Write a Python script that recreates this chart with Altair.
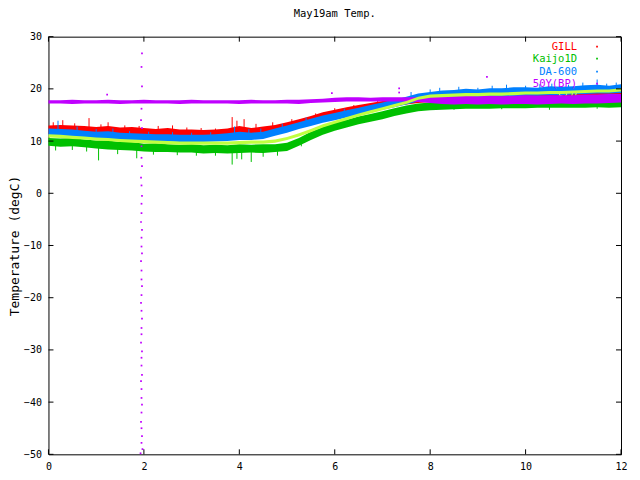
import altair as alt
import pandas as pd

# ---------------- data ----------------
hours = [0, 0.25, 0.5, 0.75, 1, 1.25, 1.5, 1.75, 2, 2.25, 2.5, 2.75, 3, 3.25, 3.5, 3.75,
         4, 4.25, 4.5, 4.75, 5, 5.25, 5.5, 5.75, 6, 6.25, 6.5, 6.75, 7, 7.25, 7.5, 7.75,
         8, 8.25, 8.5, 8.75, 9, 9.25, 9.5, 9.75, 10, 10.25, 10.5, 10.75, 11, 11.25, 11.5, 11.75, 12]

series_names = ["GILL", "Kaijo1D", "DA-600", "50Y(BP)", "SLU"]
series_colors = ["#ff0000", "#00c000", "#0080ff", "#c000ff", "#c0ff40"]

gill_lo = [11.4, 11.4, 11.5, 11.2, 11.3, 11.3, 11.1, 11.1, 10.9, 10.9, 10.8, 10.8, 10.6, 10.7, 10.5, 10.8,
           11.0, 10.9, 11.3, 11.7, 12.2, 12.8, 13.4, 14.1, 14.6, 15.2, 15.5, 16.0, 16.3, 16.7, 17.0, 17.3,
           17.5, 17.6, 17.7, 17.8, 17.9, 17.9, 18.0, 18.1, 18.2, 18.2, 18.3, 18.4, 18.4, 18.5, 18.6, 18.6, 18.7]
gill_hi = [13.0, 13.1, 13.0, 12.9, 12.7, 12.9, 12.6, 12.7, 12.5, 12.3, 12.5, 12.2, 12.2, 12.1, 12.2, 12.4,
           12.9, 12.5, 12.8, 13.1, 13.6, 14.2, 14.8, 15.5, 16.0, 16.5, 16.9, 17.3, 17.7, 18.0, 18.3, 18.6,
           18.8, 18.9, 19.0, 19.1, 19.2, 19.2, 19.3, 19.4, 19.5, 19.5, 19.6, 19.7, 19.7, 19.8, 19.9, 19.9, 20.0]

kaijo_lo = [9.1, 8.9, 9.0, 8.8, 8.6, 8.4, 8.3, 8.2, 8.0, 7.9, 7.9, 7.8, 7.8, 7.6, 7.7, 7.6,
            7.7, 7.8, 7.7, 7.9, 8.1, 9.1, 10.2, 11.2, 12.0, 12.6, 13.2, 13.7, 14.2, 14.8, 15.3, 15.7,
            15.9, 16.0, 16.1, 16.2, 16.2, 16.2, 16.3, 16.3, 16.3, 16.4, 16.4, 16.4, 16.4, 16.4, 16.5, 16.4, 16.5]
kaijo_hi = [10.6, 10.5, 10.6, 10.3, 10.1, 10.1, 9.8, 9.8, 9.5, 9.6, 9.4, 9.3, 9.4, 9.2, 9.3, 9.2,
            9.4, 9.3, 9.4, 9.4, 9.7, 10.6, 11.8, 12.7, 13.5, 14.1, 14.7, 15.2, 15.7, 16.3, 16.8, 17.2,
            17.4, 17.5, 17.6, 17.7, 17.7, 17.7, 17.8, 17.8, 17.8, 17.9, 17.9, 17.9, 17.9, 17.9, 18.0, 17.9, 18.0]

da_lo = [11.0, 10.8, 10.8, 10.6, 10.4, 10.4, 10.2, 10.1, 10.0, 9.9, 9.9, 9.8, 9.8, 9.8, 9.9, 10.0,
         10.2, 10.2, 10.4, 11.0, 11.6, 12.3, 12.9, 13.5, 14.0, 14.5, 15.0, 15.5, 16.0, 16.5, 17.0, 17.6,
         17.9, 18.1, 18.2, 18.3, 18.4, 18.5, 18.5, 18.6, 18.7, 18.7, 18.8, 18.8, 18.9, 19.0, 19.1, 19.1, 19.2]
da_hi = [12.4, 12.3, 12.2, 12.0, 11.8, 11.9, 11.6, 11.5, 11.4, 11.3, 11.3, 11.2, 11.2, 11.2, 11.3, 11.5,
         11.8, 11.6, 11.8, 12.4, 13.0, 13.6, 14.3, 14.9, 15.4, 15.9, 16.4, 16.9, 17.4, 17.9, 18.5, 19.1,
         19.4, 19.7, 19.8, 20.0, 19.9, 20.1, 20.1, 20.3, 20.3, 20.2, 20.5, 20.4, 20.5, 20.7, 20.8, 20.6, 20.9]

p50_lo = [17.2, 17.2, 17.1, 17.2, 17.2, 17.2, 17.1, 17.2, 17.2, 17.2, 17.2, 17.1, 17.2, 17.2, 17.2, 17.2,
          17.1, 17.2, 17.2, 17.2, 17.2, 17.1, 17.3, 17.4, 17.5, 17.6, 17.6, 17.6, 17.6, 17.6, 17.6, 17.5,
          17.3, 17.1, 17.0, 17.1, 17.0, 17.1, 17.0, 17.1, 17.1, 17.0, 17.1, 17.2, 17.1, 17.2, 17.2, 17.3, 17.4]
p50_hi = [17.8, 17.8, 17.9, 17.8, 17.8, 17.9, 17.8, 17.8, 17.9, 17.8, 17.8, 17.8, 17.9, 17.8, 17.8, 17.8,
          17.8, 17.9, 17.8, 17.8, 17.9, 17.9, 18.0, 18.1, 18.3, 18.4, 18.4, 18.3, 18.4, 18.4, 18.4, 18.4,
          18.5, 18.7, 18.6, 18.7, 18.6, 18.7, 18.6, 18.7, 18.8, 18.7, 18.8, 18.8, 18.8, 18.9, 18.9, 19.0, 19.0]

slu_lo = [10.7, 10.6, 10.4, 10.3, 10.1, 10.0, 9.8, 9.7, 9.6, 9.5, 9.4, 9.3, 9.3, 9.3, 9.3, 9.3,
          9.4, 9.5, 9.5, 9.7, 10.2, 10.9, 11.7, 12.6, 13.3, 14.0, 14.7, 15.3, 15.9, 16.5, 17.1, 17.9,
          18.3, 18.4, 18.5, 18.6, 18.6, 18.7, 18.7, 18.8, 18.9, 18.9, 19.0, 19.0, 19.1, 19.2, 19.3, 19.3, 19.5]
slu_hi = [11.3, 11.2, 11.0, 10.9, 10.7, 10.6, 10.4, 10.3, 10.2, 10.1, 10.0, 9.9, 9.9, 9.9, 9.9, 9.9,
          10.0, 10.1, 10.1, 10.3, 10.8, 11.5, 12.3, 13.2, 13.9, 14.6, 15.3, 15.9, 16.5, 17.1, 17.7, 18.5,
          18.9, 19.0, 19.1, 19.2, 19.2, 19.3, 19.3, 19.4, 19.5, 19.5, 19.6, 19.6, 19.7, 19.8, 19.9, 19.9, 20.1]

# noise spikes
gill_spike_x = [0.1, 0.3, 0.55, 0.85, 1.1, 1.25, 1.6, 1.9, 2.3, 2.6, 2.9, 3.2, 3.5, 3.85, 3.95, 4.1,
                4.35, 4.7, 5.1, 5.6, 6.0, 6.4, 6.9, 7.3]
gill_spike_lo = [12.2, 12.3, 12.3, 12.2, 12.0, 12.0, 11.9, 11.8, 11.6, 11.6, 11.5, 11.4, 11.3, 11.5, 11.5, 11.5,
                 11.6, 12.3, 13.0, 14.3, 15.3, 16.0, 16.9, 17.3]
gill_spike_hi = [13.6, 14.0, 13.4, 14.4, 13.2, 13.6, 13.0, 12.9, 12.9, 13.0, 12.6, 12.5, 12.4, 14.6, 13.9, 14.2,
                 13.3, 13.6, 14.2, 15.3, 16.3, 16.9, 17.7, 18.2]
kaijo_spike_x = [0.15, 0.5, 0.8, 1.05, 1.45, 1.85, 2.2, 2.7, 3.1, 3.5, 3.85, 3.95, 4.05, 4.25, 4.5, 4.8,
                 5.3, 6.2, 7.0, 8.5, 9.5, 10.5, 11.5]
kaijo_spike_lo = [8.2, 8.3, 8.0, 6.3, 7.5, 6.7, 7.4, 7.3, 7.2, 7.2, 5.5, 6.6, 6.5, 6.0, 7.0, 7.2,
                  9.0, 12.6, 14.5, 16.0, 16.1, 16.0, 16.2]
kaijo_spike_hi = [9.8, 9.8, 9.6, 9.3, 9.1, 8.8, 8.8, 8.6, 8.6, 8.5, 8.6, 8.5, 8.6, 8.6, 8.6, 8.7,
                  10.2, 13.4, 15.0, 16.9, 17.1, 17.2, 17.3]
da_spike_x = [0.2, 0.6, 1.0, 1.35, 1.7, 2.1, 2.6, 3.0, 3.4, 3.9, 4.2, 4.45, 4.9, 5.4, 6.2, 7.1,
              7.6, 8.0, 8.2, 8.6, 9.0, 9.3, 9.6, 10.0, 10.3, 10.55, 10.9, 11.2, 11.5, 11.7, 11.9]
da_spike_lo = [11.5, 11.4, 11.0, 10.8, 10.7, 10.6, 10.5, 10.4, 10.4, 10.4, 10.8, 10.7, 11.9, 13.3, 15.0, 16.8,
               17.8, 18.5, 18.6, 18.8, 19.0, 19.1, 19.0, 19.3, 19.3, 19.4, 19.4, 19.5, 19.6, 19.7, 19.8]
da_spike_hi = [13.9, 12.8, 12.3, 12.4, 11.9, 11.8, 11.7, 11.6, 11.7, 12.8, 12.3, 12.4, 13.3, 14.5, 16.2, 18.0,
               19.4, 19.9, 20.2, 20.4, 20.2, 20.6, 20.8, 20.6, 20.9, 21.0, 20.8, 21.2, 21.8, 21.0, 21.2]

# scattered 50Y(BP) readings (dropout near 2 h and a few outliers)
p50_pts_x = [1.96, 1.95, 1.96, 1.95, 1.94, 1.96, 1.95, 1.95, 1.96, 1.94, 1.95, 1.96, 1.95, 1.95, 1.94,
             1.96, 1.95, 1.95, 1.96, 1.94, 1.95, 1.95, 1.96, 1.95, 1.94, 1.95, 1.96, 1.95, 1.95, 1.94,
             1.96, 1.95, 1.95, 1.96, 1.94, 1.95, 1.95, 1.96, 1.95, 1.94, 1.95, 1.96, 1.95, 1.97, 1.93,
             1.23, 5.94, 7.35, 7.35, 9.19]
p50_pts_y = [26.8, 24.2, 20.5, 16.2, 14.0, 12.5, 9.0, 6.8, 5.2, 3.0, 1.5, -0.5, -2.0, -3.8, -5.5,
             -7.0, -8.5, -10.2, -11.5, -13.0, -14.8, -16.5, -17.8, -19.5, -21.0, -22.5, -24.0, -25.8, -27.0, -28.6,
             -30.3, -31.5, -33.0, -34.8, -36.0, -37.5, -39.2, -40.5, -42.0, -43.8, -45.0, -46.5, -47.8, -49.0, -49.8,
             18.9, 19.2, 20.1, 19.3, 22.3]

x_ticks = [0, 2, 4, 6, 8, 10, 12]
y_ticks = [-50, -40, -30, -20, -10, 0, 10, 20, 30]

# ---------------- chart ----------------
W, H = 573, 418
FONT = "DejaVu Sans Mono"

xscale = alt.Scale(domain=[0, 12], nice=False, zero=False)
yscale = alt.Scale(domain=[-50, 30], nice=False, zero=False)
xaxis = alt.Axis(values=x_ticks, title=None, grid=False, domain=False, ticks=False, tickSize=0,
                 labelFlush=False, labelPadding=7, labelFont=FONT, labelFontSize=10, labelColor="black")
yaxis = alt.Axis(values=y_ticks, title="Temperature (degC)", grid=False, domain=False, ticks=False,
                 tickSize=0, labelFlush=False, labelPadding=7, labelFont=FONT, labelFontSize=10,
                 labelColor="black",
                 titleFont=FONT, titleFontSize=13, titleFontWeight="normal", titleColor="black",
                 titleX=-34, titleY=H / 2, titleAngle=270, titleAlign="center", titleBaseline="middle")


def X(field):
    return alt.X(field, type="quantitative", scale=xscale, axis=xaxis)


def Y(field):
    return alt.Y(field, type="quantitative", scale=yscale, axis=yaxis)


def band(lo, hi, color):
    df = pd.DataFrame({"h": hours, "lo": lo, "hi": hi})
    return alt.Chart(df).mark_area(color=color, opacity=1).encode(
        x=X("h"), y=Y("lo"), y2="hi:Q")


def spikes(xs, lo, hi, color):
    df = pd.DataFrame({"h": xs, "lo": lo, "hi": hi})
    return alt.Chart(df).mark_rule(color=color, strokeWidth=1).encode(
        x=X("h"), y=Y("lo"), y2="hi:Q")


def key(i, row_y, sample=True):
    df = pd.DataFrame({"label": [series_names[i]]})
    t = alt.Chart(df).mark_text(align="right", baseline="middle", font=FONT, fontSize=10.5,
                                color=series_colors[i]).encode(
        x=alt.value(529), y=alt.value(row_y), text="label:N")
    if not sample:
        return t
    s = alt.Chart(df).mark_square(size=3, color=series_colors[i], opacity=1).encode(
        x=alt.value(549), y=alt.value(row_y))
    return t + s


def ticks_x(y0, y1):
    df = pd.DataFrame({"t": x_ticks})
    return alt.Chart(df).mark_rule(color="black", strokeWidth=1).encode(
        x=X("t"), y=alt.value(y0), y2=alt.value(y1))


def ticks_y(x0, x1):
    df = pd.DataFrame({"t": y_ticks})
    return alt.Chart(df).mark_rule(color="black", strokeWidth=1).encode(
        y=Y("t"), x=alt.value(x0), x2=alt.value(x1))


pts = alt.Chart(pd.DataFrame({"h": p50_pts_x, "y": p50_pts_y})).mark_square(
    size=3, color=series_colors[3], opacity=1).encode(x=X("h"), y=Y("y"))

chart = alt.layer(
    band(gill_lo, gill_hi, series_colors[0]),
    spikes(gill_spike_x, gill_spike_lo, gill_spike_hi, series_colors[0]),
    band(kaijo_lo, kaijo_hi, series_colors[1]),
    spikes(kaijo_spike_x, kaijo_spike_lo, kaijo_spike_hi, series_colors[1]),
    band(da_lo, da_hi, series_colors[2]),
    spikes(da_spike_x, da_spike_lo, da_spike_hi, series_colors[2]),
    key(4, 60, sample=False),
    band(p50_lo, p50_hi, series_colors[3]),
    pts,
    band(slu_lo, slu_hi, series_colors[4]),
    key(0, 10), key(1, 22), key(2, 35), key(3, 47),
    ticks_x(H, H - 5), ticks_x(0, 5), ticks_y(0, 5), ticks_y(W, W - 5),
).properties(
    width=W, height=H,
    background="white",
    title=alt.Title("May19am Temp.", font=FONT, fontSize=10.5, fontWeight="normal",
                    color="black", offset=12, anchor="middle"),
    autosize=alt.AutoSizeParams(type="none"),
    padding={"left": 40.5, "top": 28.5, "right": 11, "bottom": 18},
).configure_view(stroke="black", strokeWidth=1)

chart.save("out.html", embed_options={"renderer": "svg", "actions": False})
